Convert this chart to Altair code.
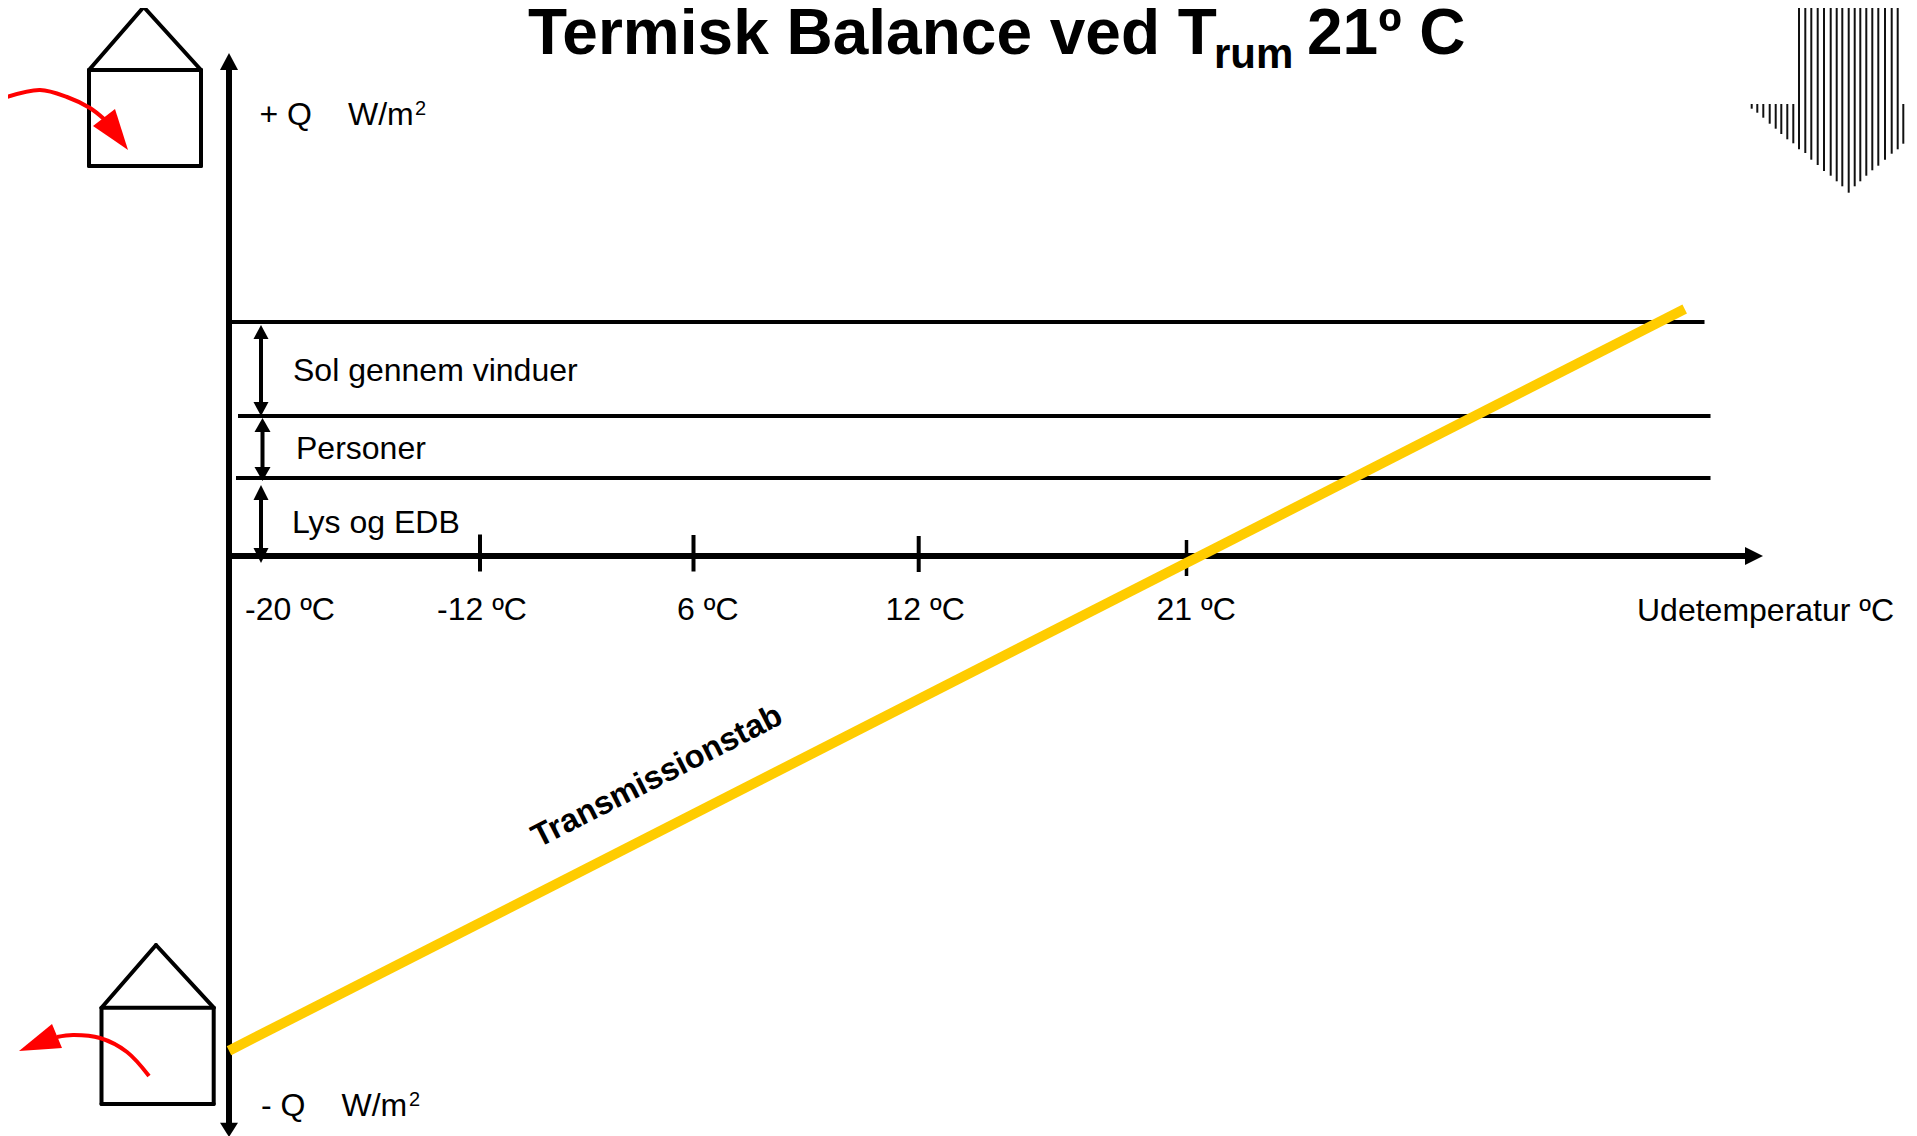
import altair as alt
import pandas as pd

FONT = "Liberation Sans"
BLACK = "#000000"
RED = "#FF0000"
YELLOW = "#FFCC00"

# Diagram coordinates (one unit = one reference pixel)
X_DOMAIN = [8, 1909]
Y_DOMAIN = [8, 1136]

axis_segments = [(229, 65, 229, 1125, 6), (229, 556, 1748, 556, 6)]
level_segments = [
    (229, 322, 1704.5, 322, 4),
    (238, 416, 1710.5, 416, 4),
    (236, 478, 1710.5, 478, 4),
]
tick_segments = [
    (480, 534.5, 480, 571.5, 4),
    (693.5, 535, 693.5, 571.5, 4),
    (918.7, 536, 918.7, 572, 4),
    (1186.5, 540, 1186.5, 576, 3.5),
]
dimension_segments = [
    (261, 336, 261, 405, 4),
    (262.5, 430, 262.5, 469, 4),
    (261, 497, 261, 552, 4),
]
house_top = [
    (89, 70, 201, 70, 4), (201, 70, 201, 166, 4), (201, 166, 89, 166, 4),
    (89, 166, 89, 70, 4), (89, 70, 143.7, 7, 4), (143.7, 7, 201, 70, 4),
]
house_bottom = [
    (101.5, 1007.7, 213.7, 1007.7, 4), (213.7, 1007.7, 213.7, 1104, 4),
    (213.7, 1104, 101.5, 1104, 4), (101.5, 1104, 101.5, 1007.7, 4),
    (101.5, 1007.7, 156, 945, 4), (156, 945, 213.7, 1007.7, 4),
]
transmission_line = [(229, 1050.7, 1684.7, 309, 10)]

hatch_tall_x = [1799, 1805.3, 1811.3, 1817.7, 1824, 1830.7, 1836.7, 1842.3, 1848.7,
                1854.7, 1860.3, 1866.3, 1872.3, 1878.3, 1885, 1891.7, 1897.7]
hatch_tall_bottom = [149.3, 153, 159.7, 165, 171, 175.7, 181.3, 186.3, 192.7,
                     186.3, 181.3, 175.7, 170.3, 165.7, 159.7, 153.7, 149.3]
hatch_short_x = [1751.7, 1757.3, 1763.3, 1769.7, 1775.7, 1781.3, 1787.3, 1793.3, 1903.3]
hatch_short_bottom = [108.7, 112.7, 117.7, 123.7, 128.7, 134, 139.3, 143.3, 143.7]

triangles = [
    ("up", BLACK, [(220, 70), (229, 53), (238, 70)]),
    ("down", BLACK, [(220, 1122.7), (229, 1137), (238, 1122.7)]),
    ("right", BLACK, [(1745, 547), (1745, 565), (1763, 556)]),
    ("a1", BLACK, [(253.5, 339), (261, 325), (268.5, 339)]),
    ("a2", BLACK, [(253.5, 402), (261, 416), (268.5, 402)]),
    ("b1", BLACK, [(254.5, 432), (262.5, 418), (270.5, 432)]),
    ("b2", BLACK, [(254.5, 467), (262.5, 481), (270.5, 467)]),
    ("c1", BLACK, [(253.5, 500), (261, 485), (268.5, 500)]),
    ("c2", BLACK, [(253.5, 548), (261, 563), (268.5, 548)]),
    ("red1", RED, [(93, 126), (115, 109), (128, 150)]),
    ("red2", RED, [(19, 1051), (52, 1024), (62, 1048)]),
]

curve_in = [(7, 97), (40, 90), (67, 97), (90, 108), (104, 119)]
curve_out = [(149, 1076), (127, 1052), (100, 1038), (73, 1035), (57, 1037)]

regular_text = [
    ("+ Q", 259.5, 125, 32), ("W/m", 348, 125, 32), ("2", 415, 115, 20),
    ("- Q", 261, 1116, 32), ("W/m", 341.5, 1116, 32), ("2", 409, 1106, 20),
    ("Sol gennem vinduer", 293, 381, 32), ("Personer", 296, 459, 32),
    ("Lys og EDB", 292, 533, 32),
    ("-20 ºC", 245, 620, 32), ("-12 ºC", 437, 620, 32), ("6 ºC", 677, 620, 32),
    ("12 ºC", 885.5, 620, 32), ("21 ºC", 1156.5, 620, 32),
    ("Udetemperatur ºC", 1637, 621, 32),
]
title_text = [
    ("Termisk Balance ved T", 528, 54, 64),
    ("rum", 1214, 68, 42),
    ("21º C", 1307, 54, 64),
]
rotated_text = [("Transmissionstab", 538.5, 848, 32.5)]


def seg_table(rows, color):
    return [dict(x=a, y=b, x2=c, y2=d, w=w, c=color) for a, b, c, d, w in rows]


def tri_rows(name, color, pts):
    p, q, r = sorted(pts, key=lambda t: t[0])
    mid = p[1] + (r[1] - p[1]) * (q[0] - p[0]) / (r[0] - p[0])
    return [
        dict(id=name, c=color, x=p[0], y=p[1], y2=p[1]),
        dict(id=name, c=color, x=q[0], y=q[1], y2=mid),
        dict(id=name, c=color, x=r[0], y=r[1], y2=r[1]),
    ]


xs = alt.Scale(domain=X_DOMAIN, range=[0, X_DOMAIN[1] - X_DOMAIN[0]], nice=False, zero=False)
ys = alt.Scale(domain=Y_DOMAIN, range=[0, Y_DOMAIN[1] - Y_DOMAIN[0]], nice=False, zero=False)
X = alt.X("x:Q", scale=xs, axis=None)
Y = alt.Y("y:Q", scale=ys, axis=None)
COL = alt.Color("c:N", scale=None, legend=None)

black_rows = (
    seg_table(axis_segments, BLACK) + seg_table(level_segments, BLACK)
    + seg_table(tick_segments, BLACK) + seg_table(dimension_segments, BLACK)
)
house_rows = seg_table(house_top, BLACK) + seg_table(house_bottom, BLACK)
yellow_rows = seg_table(transmission_line, YELLOW)


def rules(rows, **kw):
    return alt.Chart(pd.DataFrame(rows)).mark_rule(**kw).encode(
        x=X, y=Y, x2="x2:Q", y2="y2:Q",
        strokeWidth=alt.StrokeWidth("w:Q", scale=None),
        color=COL,
    )


hatch_rows = (
    [dict(x=x, y=8, y2=b) for x, b in zip(hatch_tall_x, hatch_tall_bottom)]
    + [dict(x=x, y=104, y2=b) for x, b in zip(hatch_short_x, hatch_short_bottom)]
)
hatch = alt.Chart(pd.DataFrame(hatch_rows)).mark_rule(strokeWidth=2, color="#111111").encode(
    x=X, y=alt.Y("y:Q", scale=ys, axis=None), y2="y2:Q"
)

curve_rows = (
    [dict(id="in", n=i, x=x, y=y) for i, (x, y) in enumerate(curve_in)]
    + [dict(id="out", n=i, x=x, y=y) for i, (x, y) in enumerate(curve_out)]
)
curves = alt.Chart(pd.DataFrame(curve_rows)).mark_line(
    color=RED, strokeWidth=4, interpolate="catmull-rom"
).encode(x=X, y=Y, detail="id:N", order="n:Q")

tri_data = [row for name, color, pts in triangles for row in tri_rows(name, color, pts)]
heads = alt.Chart(pd.DataFrame(tri_data)).mark_area(opacity=1).encode(
    x=X, y=Y, y2="y2:Q", detail="id:N", color=COL
)


def texts(rows, **kw):
    df = pd.DataFrame(rows, columns=["label", "x", "y", "size"])
    return alt.Chart(df).mark_text(
        font=FONT, align="left", baseline="alphabetic", color=BLACK, **kw
    ).encode(x=X, y=Y, text="label:N", size=alt.Size("size:Q", scale=None, legend=None))


chart = alt.layer(
    hatch,
    rules(black_rows),
    rules(house_rows, strokeCap="round"),
    curves,
    heads,
    rules(yellow_rows),
    texts(regular_text),
    texts(title_text, fontWeight="bold"),
    texts(rotated_text, fontWeight="bold", angle=333),
).properties(
    width=X_DOMAIN[1] - X_DOMAIN[0],
    height=Y_DOMAIN[1] - Y_DOMAIN[0],
    padding=0,
    autosize=alt.AutoSizeParams(type="none"),
).configure_view(strokeWidth=0, stroke=None)

chart.save("out.html", embed_options={"renderer": "svg", "actions": False})
